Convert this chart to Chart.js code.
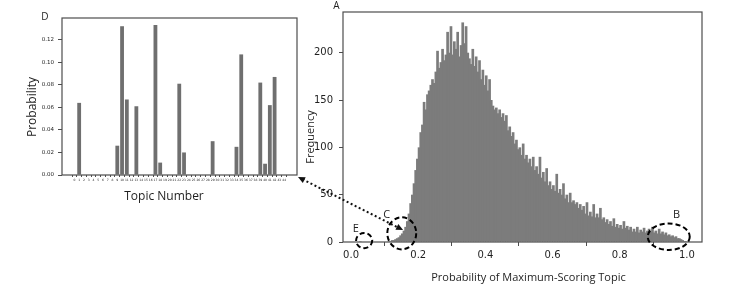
<!DOCTYPE html>
<html>
<head>
<meta charset="utf-8">
<script src="https://cdn.jsdelivr.net/npm/chart.js@4.4.1/dist/chart.umd.min.js"></script>
<style>
  html, body { margin: 0; padding: 0; background: #fff; }
  body { width: 733px; height: 289px; position: relative; overflow: hidden; }
  .box { position: absolute; }
  #boxD { left: 0; top: 0; width: 300px; height: 210px; }
  #boxA { left: 290px; top: 0; width: 443px; height: 289px; }
</style>
</head>
<body>
<div class="box" id="boxD"><canvas id="topicChart"></canvas></div>
<div class="box" id="boxA"><canvas id="histChart"></canvas></div>
<script>
// panel D - topic distribution of one document
const topicNumbers = [0,1,2,3,4,5,6,7,8,9,10,11,12,13,14,15,16,17,18,19,20,21,22,
  23,24,25,26,27,28,29,30,31,32,33,34,35,36,37,38,39,40,41,42,43,44];
const topicProbs = [0,0.064,0,0,0,0,0,0,0,0.026,0.132,0.067,0,0.061,0,0,0,0.133,0.011,0,0,0,0.081,
  0.020,0,0,0,0,0,0.030,0,0,0,0,0.025,0.107,0,0,0,0.082,0.010,0.062,0.087,0,0];
const probTicks = [0, 0.02, 0.04, 0.06, 0.08, 0.10, 0.12];

// panel A - histogram of the max topic probability
const binStart = 0.025;
const binWidth = 0.005;
const freq = [
  1,0,0,0,0,0,0,0,0,0,
  0,0,0,0,0,0,0,1,1,2,
  2,3,4,5,7,9,12,16,22,30,
  41,50,62,76,88,100,116,124,148,140,
  156,160,166,172,168,180,202,184,190,204,
  192,198,222,200,228,198,212,204,222,196,
  208,232,210,228,200,194,188,204,186,196,
  180,192,172,182,166,176,160,172,150,144,
  140,142,136,140,132,136,128,134,118,122,
  112,116,104,108,98,100,92,104,88,92,
  84,88,80,90,76,80,72,90,68,74,
  64,78,60,64,56,60,54,72,52,56,
  50,62,46,50,42,52,42,44,40,42,
  36,40,34,38,30,42,28,32,27,40,
  26,30,26,36,24,26,21,24,19,22,
  17,25,16,19,15,18,14,22,15,17,
  13,16,11,14,11,16,10,13,11,15,
  10,12,14,11,16,10,12,9,14,9,
  11,8,10,7,8,6,7,5,6,4,
  4,3,2,1,1
];
const probAxisTicks = [0, 0.2, 0.4, 0.6, 0.8, 1.0];
const freqTicks = [0, 50, 100, 150, 200];

// dashed rings on panel A (data units)
const rings = [
  { label: 'E', x: 0.039, y: 1.5, rx: 0.024, ry: 8,  lx: 0.014, ly: 14 },
  { label: 'C', x: 0.151, y: 9.2, rx: 0.043, ry: 17, lx: 0.106, ly: 28.5 },
  { label: 'B', x: 0.946, y: 5.6, rx: 0.0625, ry: 14, lx: 0.969, ly: 28.5 }
];
const arrowTo = { x: 0.155, y: 12.6 };

const AX = '#4d4d4d';
const TXT = '#1f1f1f';

function framePlugin(texts, extra) {
  return {
    id: 'frame',
    afterDraw(chart) {
      const ctx = chart.ctx, a = chart.chartArea;
      ctx.save();
      ctx.strokeStyle = AX;
      ctx.lineWidth = 1.2;
      ctx.strokeRect(a.left, a.top, a.right - a.left, a.bottom - a.top);
      ctx.fillStyle = TXT;
      texts.forEach(t => {
        ctx.save();
        ctx.font = t.font;
        ctx.textAlign = 'center';
        ctx.textBaseline = 'middle';
        ctx.translate(t.x, t.y);
        if (t.rot) ctx.rotate(t.rot);
        ctx.fillText(t.text, 0, 0);
        ctx.restore();
      });
      if (extra) extra(chart, ctx);
      ctx.restore();
    }
  };
}

function arrowHead(ctx, x, y, ang) {
  const L = 7, W = 3.2;
  ctx.beginPath();
  ctx.moveTo(x, y);
  ctx.lineTo(x - L * Math.cos(ang) + W * Math.sin(ang), y - L * Math.sin(ang) - W * Math.cos(ang));
  ctx.lineTo(x - L * Math.cos(ang) - W * Math.sin(ang), y - L * Math.sin(ang) + W * Math.cos(ang));
  ctx.closePath();
  ctx.fill();
}

function drawMarks(chart, ctx) {
  const xs = chart.scales.x, ys = chart.scales.y;
  ctx.strokeStyle = '#000';
  ctx.fillStyle = '#000';
  ctx.lineWidth = 2;
  ctx.setLineDash([5, 3]);
  rings.forEach(r => {
    const cx = xs.getPixelForValue(r.x), cy = ys.getPixelForValue(r.y);
    const rx = xs.getPixelForValue(r.x + r.rx) - cx;
    const ry = cy - ys.getPixelForValue(r.y + r.ry);
    ctx.beginPath();
    ctx.ellipse(cx, cy, rx, ry, 0, 0, Math.PI * 2);
    ctx.stroke();
  });
  ctx.setLineDash([]);
  ctx.font = '11px "Open Sans"';
  ctx.textAlign = 'center';
  ctx.textBaseline = 'middle';
  ctx.fillStyle = TXT;
  rings.forEach(r => {
    ctx.fillText(r.label, xs.getPixelForValue(r.lx), ys.getPixelForValue(r.ly));
  });

  // dotted double arrow from panel D corner to region C
  const d = topicChart.chartArea;
  const bD = document.getElementById('boxD'), bA = document.getElementById('boxA');
  const x0 = d.right + bD.offsetLeft - bA.offsetLeft + 1;
  const y0 = d.bottom + bD.offsetTop - bA.offsetTop + 2;
  const x1 = xs.getPixelForValue(arrowTo.x), y1 = ys.getPixelForValue(arrowTo.y);
  const ang = Math.atan2(y1 - y0, x1 - x0);
  ctx.strokeStyle = '#111';
  ctx.fillStyle = '#111';
  ctx.lineWidth = 2;
  ctx.setLineDash([2, 2.5]);
  ctx.beginPath();
  ctx.moveTo(x0 + 5 * Math.cos(ang), y0 + 5 * Math.sin(ang));
  ctx.lineTo(x1 - 5 * Math.cos(ang), y1 - 5 * Math.sin(ang));
  ctx.stroke();
  ctx.setLineDash([]);
  arrowHead(ctx, x1, y1, ang);
  arrowHead(ctx, x0, y0, ang + Math.PI);
}

const topicChart = new Chart(document.getElementById('topicChart'), {
  type: 'bar',
  data: {
    datasets: [{
      data: topicNumbers.map((t, i) => ({ x: t, y: topicProbs[i] })),
      backgroundColor: '#6f6f6f',
      borderWidth: 0,
      barPercentage: 0.8,
      categoryPercentage: 1
    }]
  },
  options: {
    responsive: true,
    maintainAspectRatio: false,
    animation: false,
    layout: { padding: { top: 18, right: 3, left: 0, bottom: 0 } },
    plugins: { legend: { display: false }, tooltip: { enabled: false } },
    scales: {
      x: {
        type: 'linear', offset: false, min: -2.6, max: 46.7,
        afterFit: s => { s.height = 35; },
        afterBuildTicks: s => { s.ticks = topicNumbers.map(v => ({ value: v })); },
        grid: { display: true, drawOnChartArea: false, drawTicks: true, tickLength: 2, color: AX },
        border: { display: false },
        ticks: { autoSkip: false, maxRotation: 0, padding: 1, color: TXT,
                 font: { family: 'DejaVu Sans', size: 3 }, callback: v => String(v) }
      },
      y: {
        min: 0, max: 0.1393,
        afterFit: s => { s.width = 62; },
        afterBuildTicks: s => { s.ticks = probTicks.map(v => ({ value: v })); },
        grid: { display: true, drawOnChartArea: false, drawTicks: true, tickLength: 4, color: AX },
        border: { display: false },
        ticks: { padding: 4, color: TXT, font: { family: 'DejaVu Sans', size: 5.5 },
                 callback: v => v.toFixed(2) }
      }
    }
  },
  plugins: [framePlugin([
    { text: 'D', x: 45, y: 17, font: '10px "Open Sans"' },
    { text: 'Probability', x: 33, y: 107, rot: -Math.PI / 2, font: '12px "Open Sans"' },
    { text: 'Topic Number', x: 164, y: 197, font: '12px "Open Sans"' }
  ])]
});

const histChart = new Chart(document.getElementById('histChart'), {
  type: 'bar',
  data: {
    datasets: [{
      data: freq.map((f, i) => ({ x: binStart + binWidth * (i + 0.5), y: f })),
      backgroundColor: '#7c7c7c',
      borderWidth: 0,
      barPercentage: 1.6,
      categoryPercentage: 1
    }]
  },
  options: {
    responsive: true,
    maintainAspectRatio: false,
    animation: false,
    layout: { padding: { top: 11, right: 31, left: 0, bottom: 0 } },
    plugins: { legend: { display: false }, tooltip: { enabled: false } },
    scales: {
      x: {
        type: 'linear', offset: false, min: -0.024, max: 1.045,
        afterFit: s => { s.height = 47; },
        afterBuildTicks: s => { s.ticks = probAxisTicks.map(v => ({ value: v })); },
        grid: { display: true, drawOnChartArea: false, drawTicks: true, tickLength: 4, color: AX },
        border: { display: false },
        ticks: { maxRotation: 0, padding: 3, color: TXT,
                 font: { family: 'DejaVu Sans', size: 10 }, callback: v => v.toFixed(1) }
      },
      y: {
        min: 0, max: 243,
        afterFit: s => { s.width = 53; },
        afterBuildTicks: s => { s.ticks = freqTicks.map(v => ({ value: v })); },
        grid: { display: true, drawOnChartArea: false, drawTicks: true, tickLength: 4, color: AX },
        border: { display: false },
        ticks: { padding: 6, color: TXT, font: { family: 'DejaVu Sans', size: 10 },
                 callback: v => String(v) }
      }
    }
  },
  plugins: [framePlugin([
    { text: 'A', x: 46.5, y: 6.5, font: '10px "Open Sans"' },
    { text: 'Frequency', x: 20.7, y: 137, rot: -Math.PI / 2, font: '11px "Open Sans"' },
    { text: 'Probability of Maximum-Scoring Topic', x: 238.5, y: 278, font: '11px "Open Sans"' }
  ], drawMarks)]
});
</script>
</body>
</html>
